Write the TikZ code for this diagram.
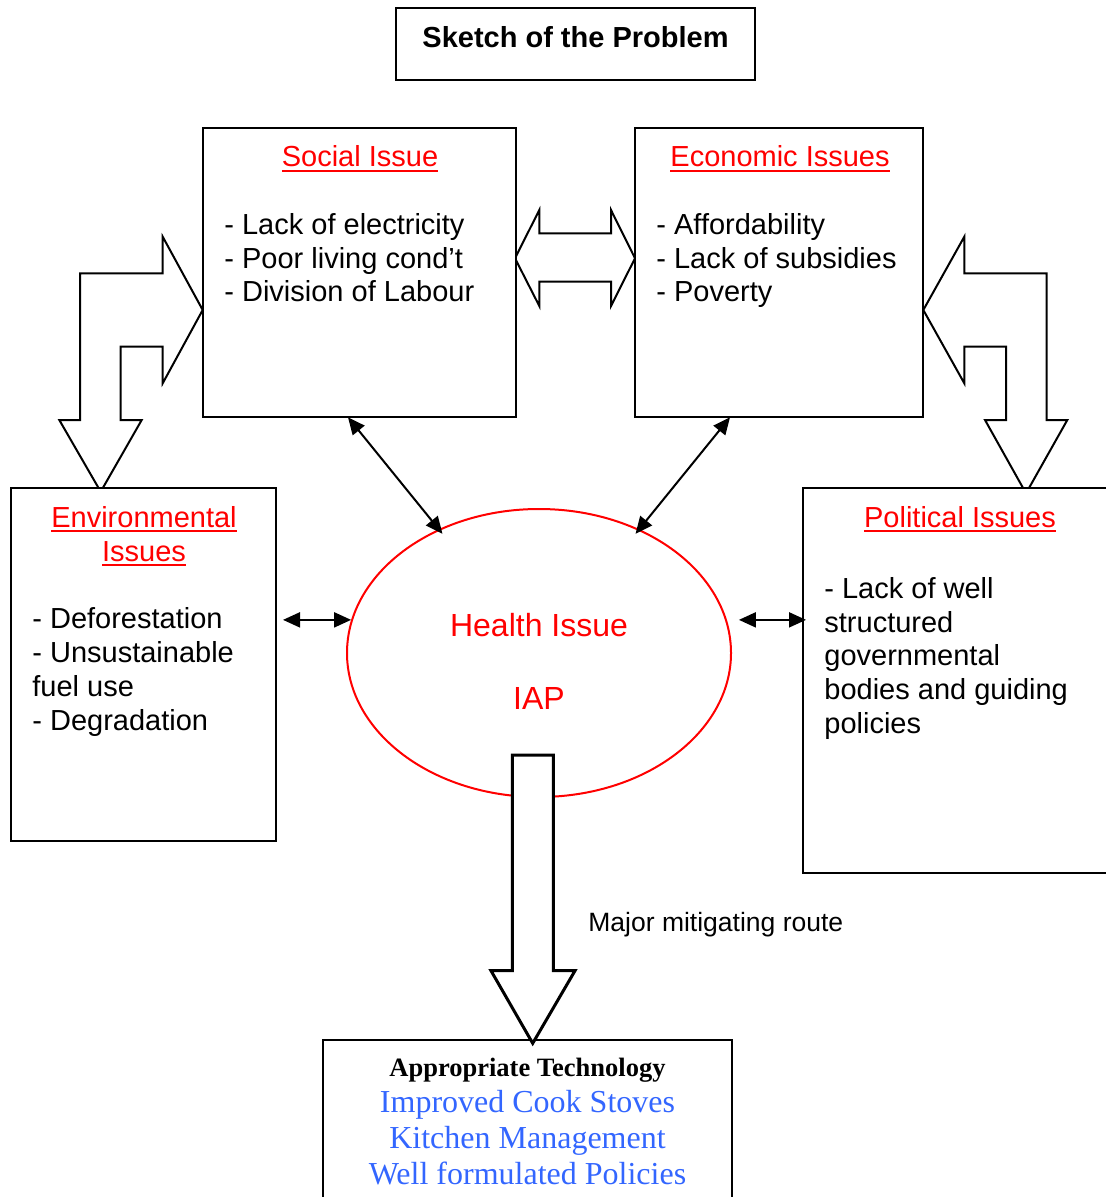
\documentclass[tikz,border=0pt]{standalone}
\usepackage{fontspec}
\setmainfont{Liberation Sans}
\newfontfamily\tmsfont{Liberation Serif}
\usetikzlibrary{shapes.geometric,arrows.meta,calc}
\definecolor{issuered}{RGB}{255,0,0}
\definecolor{techblue}{RGB}{51,102,255}
\newcommand\fsbig{\fontsize{14.5}{16.75}\selectfont}
\newcommand\fssmall{\fontsize{13.25}{15}\selectfont}
\newcommand\ulx[1]{\leavevmode\setbox0\hbox{#1}\rlap{\raisebox{-2.4pt}{\rule{\wd0}{0.9pt}}}\box0}
\begin{document}
\begin{tikzpicture}[x=0.5pt,y=-0.5pt,
  box/.style={draw=black,line width=1pt,rectangle,inner sep=0pt,fill=white},
  ln/.style={inner sep=0pt,anchor=base west,font=\fsbig},
  ctr/.style={inner sep=0pt,anchor=base,font=\fsbig},
  hd/.style={inner sep=0pt,anchor=base,font=\fsbig,text=issuered},
  blk/.style={draw=black,line width=1pt,fill=white,line join=miter},
  dbl/.style={line width=1pt,{Triangle[length=8.5pt,width=7.5pt]}-{Triangle[length=8.5pt,width=7.5pt]}},
  tech/.style={inner sep=0pt,anchor=base,font=\tmsfont\fontsize{16}{18}\selectfont,text=techblue}]
\useasboundingbox (0,0) rectangle (1106,1197);

% title
\node[box,minimum width=179.5pt,minimum height=36pt] (ttl) at (575.5,44) {};
\node[ctr,font=\fsbig\bfseries] (ttltxt) at (575.5,48) {Sketch of the Problem};

% block arrows
\draw[blk] (162.7,236.7) -- (202.7,310) -- (162.7,383.3) -- (162.7,346.7) -- (120.7,346.7)
  -- (120.7,420) -- (141.7,420) -- (100.7,491.7) -- (59.3,420) -- (80,420) -- (80,273.3)
  -- (162.7,273.3) -- cycle;
\draw[blk] (964.3,236.7) -- (923.3,310) -- (964.3,383.3) -- (964.3,346.7) -- (1006,346.7)
  -- (1006,420) -- (985,420) -- (1026,493.3) -- (1067.3,420) -- (1046.7,420) -- (1046.7,273.3)
  -- (964.3,273.3) -- cycle;
\draw[blk] (515,258.3) -- (539.3,210) -- (539.3,233.3) -- (611,233.3) -- (611,210) -- (635,258.3)
  -- (611,306) -- (611,281.7) -- (539.3,281.7) -- (539.3,306) -- cycle;

% boxes
\node[box,minimum width=156.5pt,minimum height=144.5pt] (soc) at (359.5,272.5) {};
\node[box,minimum width=144pt,minimum height=144.5pt] (eco) at (779,272.5) {};
\node[box,minimum width=132.5pt,minimum height=176.5pt] (env) at (143.5,664.5) {};
\node[box,minimum width=158.5pt,minimum height=192.5pt] (pol) at (961.5,680.5) {};

% social
\node[hd] (socT) at (360,167) {\ulx{Social Issue}};
\node[ln] (soc1) at (224,235) {- Lack of electricity};
\node[ln] (soc2) at (224,268.5) {- Poor living cond’t};
\node[ln] (soc3) at (224,302) {- Division of Labour};
% economic
\node[hd] (ecoT) at (780,167) {\ulx{Economic Issues}};
\node[ln] (eco1) at (656,235) {- Affordability};
\node[ln] (eco2) at (656,268.5) {- Lack of subsidies};
\node[ln] (eco3) at (656,302) {- Poverty};
% environmental
\node[hd] (envT1) at (144,527) {\ulx{Environmental}};
\node[hd] (envT2) at (144,561) {\ulx{Issues}};
\node[ln] (env1) at (32,628) {- Deforestation};
\node[ln] (env2) at (32,662) {- Unsustainable};
\node[ln] (env3) at (32,696) {fuel use};
\node[ln] (env4) at (32,730) {- Degradation};
% political
\node[hd] (polT) at (960,527) {\ulx{Political Issues}};
\node[ln] (pol1) at (824,598) {- Lack of well};
\node[ln] (pol2) at (824,632) {structured};
\node[ln] (pol3) at (824,665.5) {governmental};
\node[ln] (pol4) at (824,699) {bodies and guiding};
\node[ln] (pol5) at (824,733) {policies};

% health ellipse
\node[ellipse,draw=issuered,line width=1pt,minimum width=192pt,minimum height=144pt,inner sep=0pt] (e) at (539,653) {};
\node[hd,font=\fontsize{16}{18}\selectfont] (h1) at (539,636) {Health Issue};
\node[hd,font=\fontsize{16}{18}\selectfont] (h2) at (539,709) {IAP};

% connectors
\draw[dbl,shorten >=-3pt] (348,417.3) -- (e.129);
\draw[dbl,shorten >=-3pt] (730,417.3) -- (e.51);
\draw[dbl,shorten <=3pt] (env.east |- e.170) -- (e.170);
\draw[dbl,shorten <=6pt,shorten >=-2pt] (e.10) -- (pol.west |- e.10);

% bottom box
\node[box,fill=none,minimum width=204.5pt,minimum height=85pt] (tec) at (527.5,1125) {};
\node[inner sep=0pt,anchor=base,font=\tmsfont\fontsize{13.25}{15}\selectfont\bfseries] (tec0) at (527.5,1076) {Appropriate Technology};
\node[tech] (tec1) at (527.5,1112) {Improved Cook Stoves};
\node[tech] (tec2) at (527.5,1148) {Kitchen Management};
\node[tech] (tec3) at (527.5,1184) {Well formulated Policies};

% major route arrow
\draw[blk,line width=1.5pt] (512.3,755) -- (553.3,755) -- (553.3,970.7) -- (575,970.7) -- (532.7,1043.3)
  -- (491,970.7) -- (512.3,970.7) -- cycle;
\node[inner sep=0pt,anchor=base west,font=\fssmall] (route) at (588,931) {Major mitigating route};
\end{tikzpicture}
\end{document}
